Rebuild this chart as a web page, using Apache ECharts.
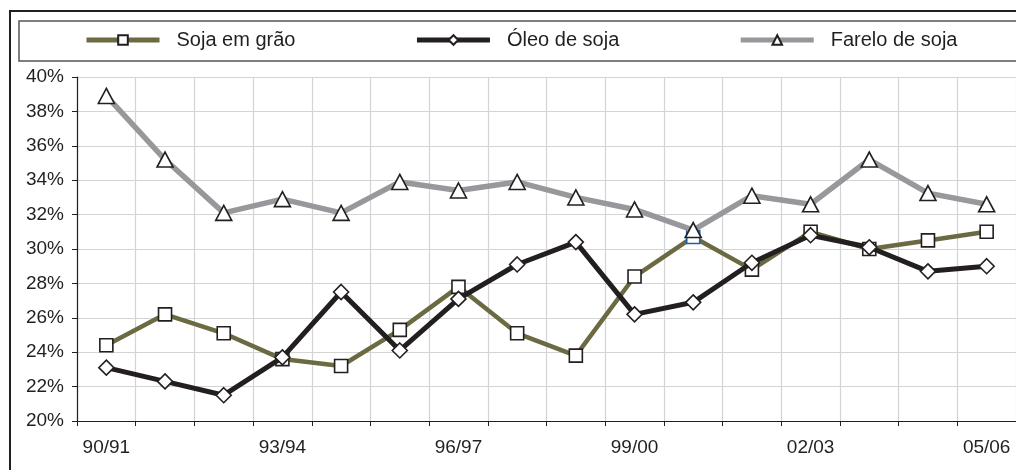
<!DOCTYPE html>
<html><head><meta charset="utf-8">
<script src="https://cdn.jsdelivr.net/npm/echarts@6/dist/echarts.min.js"></script>
<style>html,body{margin:0;padding:0;background:#fff}#c{width:1016px;height:470px}</style>
</head><body><div id="c"></div>
<script>
const categories = ['90/91','91/92','92/93','93/94','94/95','95/96','96/97','97/98','98/99','99/00','00/01','01/02','02/03','03/04','04/05','05/06'];
const sojaGrao = [24.4, 26.2, 25.1, 23.6, 23.2, 25.3, 27.8, 25.1, 23.8, 28.4, 30.7, 28.8, 31.0, 30.0, 30.5, 31.0];
const oleoSoja = [23.1, 22.3, 21.5, 23.7, 27.5, 24.1, 27.1, 29.1, 30.4, 26.2, 26.9, 29.2, 30.8, 30.1, 28.7, 29.0];
const fareloSoja = [38.9, 35.2, 32.1, 32.9, 32.1, 33.9, 33.4, 33.9, 33.0, 32.3, 31.1, 33.1, 32.6, 35.2, 33.25, 32.6];
const yTicks = {min: 20, max: 40, interval: 2};

const FONT = 'Liberation Sans, Arial, sans-serif';
const INK = '#231f20';
const OLIVE = '#6b6a42';
const GRAY = '#98989c';
const chart = echarts.init(document.getElementById('c'), null, {renderer: 'canvas'});

const sojaData = sojaGrao.map((v, i) => i === 10
  ? {value: v, itemStyle: {borderColor: '#1a5fb4'}}
  : v);

const markerStyle = {color: '#ffffff', borderColor: INK, borderWidth: 1.6};

chart.setOption({
  animation: false,
  textStyle: {fontFamily: FONT},
  graphic: [
    {type: 'rect', z: -10, shape: {x: 10, y: 11, width: 1020, height: 480},
     style: {fill: '#fff', stroke: INK, lineWidth: 2}},
    {type: 'rect', z: -9, shape: {x: 19, y: 21, width: 1010, height: 40},
     style: {fill: '#fff', stroke: '#555555', lineWidth: 1.5}}
  ],
  legend: {
    left: 79, top: 25,
    itemWidth: 73, itemHeight: 12, itemGap: 119,
    textStyle: {fontFamily: FONT, fontSize: 20, color: INK, padding: [0, 0, 0, 12]},
    data: [
      {name: 'Soja em grão', lineStyle: {width: 5, color: OLIVE}},
      {name: 'Óleo de soja', lineStyle: {width: 5, color: INK}},
      {name: 'Farelo de soja', lineStyle: {width: 5, color: GRAY}}
    ]
  },
  grid: {left: 77, top: 77, width: 942, bottom: 49, containLabel: false},
  xAxis: {
    type: 'category', data: categories, boundaryGap: true,
    axisLine: {lineStyle: {color: INK, width: 1.2}},
    axisTick: {show: true, interval: 0, length: 5, lineStyle: {color: INK}},
    axisLabel: {interval: 2, margin: 17, fontFamily: FONT, fontSize: 19, color: INK, showMaxLabel: true},
    splitLine: {show: true, interval: 0, lineStyle: {color: '#d4d4d4', width: 1.2}}
  },
  yAxis: {
    type: 'value', min: yTicks.min, max: yTicks.max, interval: yTicks.interval,
    axisLine: {show: true, lineStyle: {color: INK, width: 1.2}},
    axisTick: {show: true, length: 5, lineStyle: {color: INK}},
    axisLabel: {formatter: '{value}%', margin: 13, fontFamily: FONT, fontSize: 19, color: INK},
    splitLine: {show: true, lineStyle: {color: '#d4d4d4', width: 1.2}}
  },
  series: [
    {name: 'Soja em grão', type: 'line', data: sojaData, symbol: 'rect', symbolSize: 13,
     lineStyle: {color: OLIVE, width: 4.5}, itemStyle: Object.assign({}, markerStyle),
     emphasis: {disabled: true}, z: 2},
    {name: 'Óleo de soja', type: 'line', data: oleoSoja, symbol: 'diamond', symbolSize: 15,
     lineStyle: {color: INK, width: 5}, itemStyle: Object.assign({}, markerStyle),
     emphasis: {disabled: true}, z: 3},
    {name: 'Farelo de soja', type: 'line', data: fareloSoja, symbol: 'triangle', symbolSize: [16, 15],
     lineStyle: {color: GRAY, width: 5.5}, itemStyle: Object.assign({}, markerStyle),
     emphasis: {disabled: true}, z: 4}
  ]
});
</script></body></html>
